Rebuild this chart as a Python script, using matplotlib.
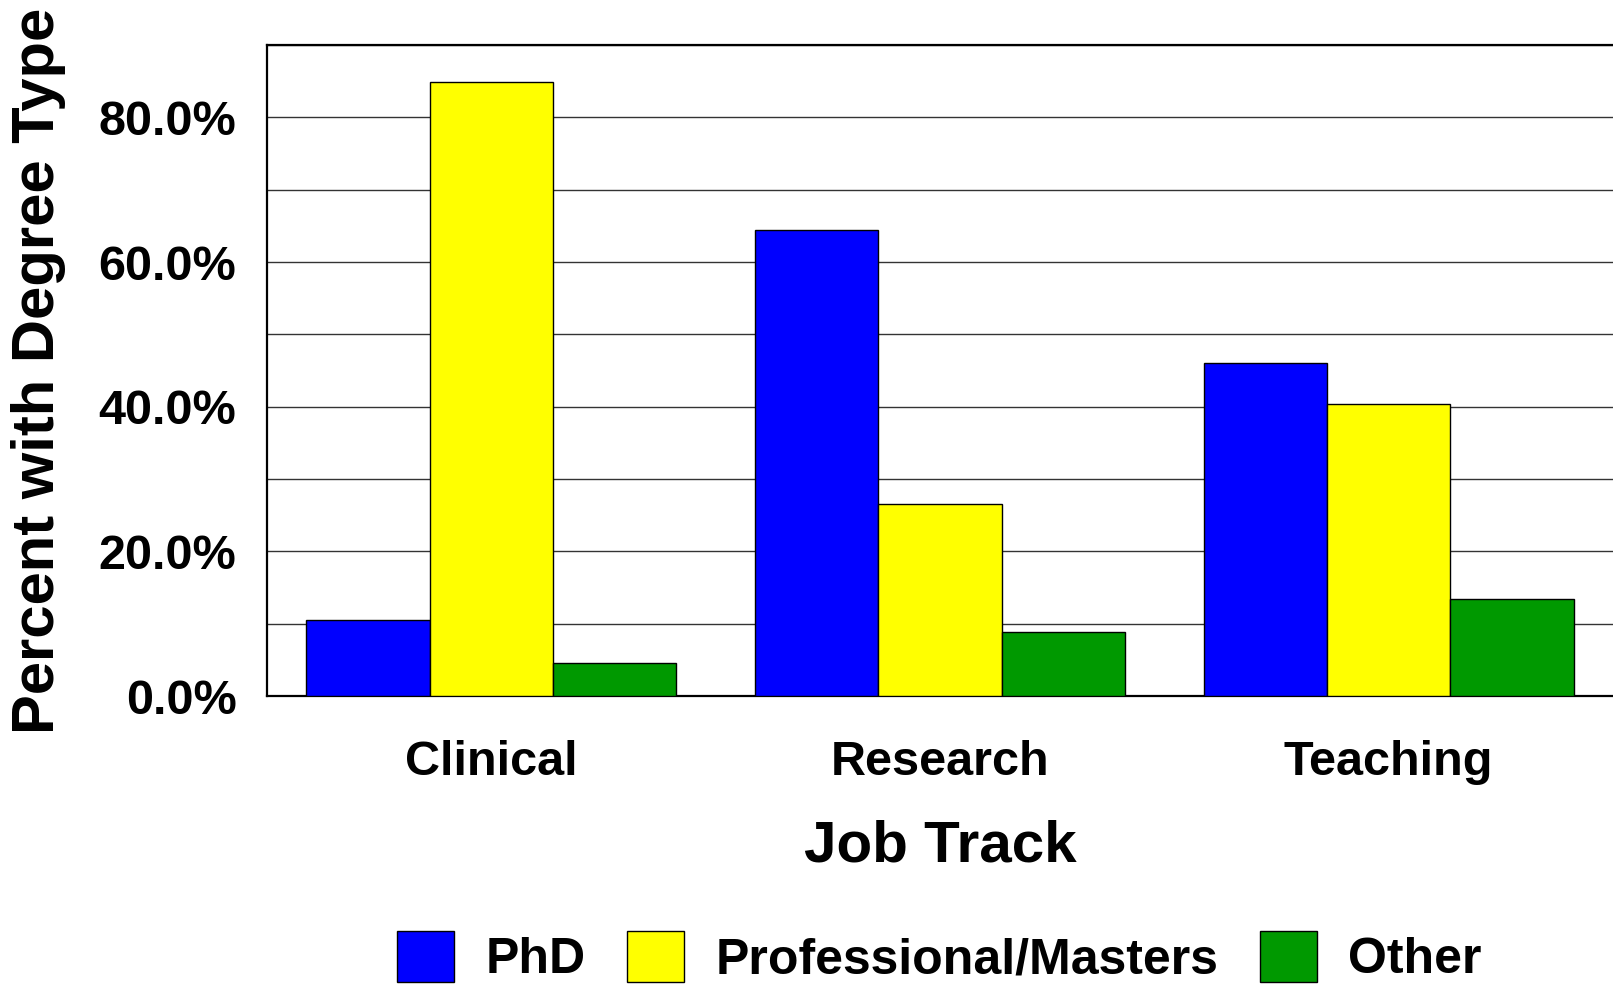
import numpy as np
import matplotlib
matplotlib.use('Agg')
import matplotlib.pyplot as plt
from matplotlib.ticker import FuncFormatter, MultipleLocator

tracks = ['Clinical', 'Research', 'Teaching']
degrees = ['PhD', 'Professional/Masters', 'Other']
phd = [10.5, 64.4, 46.1]
prof = [84.9, 26.5, 40.3]
other = [4.6, 8.9, 13.4]
colors = ['#0000ff', '#ffff00', '#009900']


def main():
    plt.rcParams['font.family'] = ['Liberation Sans', 'DejaVu Sans']
    plt.rcParams['font.weight'] = 'bold'

    fig = plt.figure(figsize=(16.13, 9.84), dpi=100)
    ax = fig.add_axes([267 / 1613, 1 - 696 / 984, 1 - 267 / 1613, (696 - 45) / 984])

    x = np.arange(len(tracks))
    w = 0.275
    for i, (vals, lab) in enumerate(zip([phd, prof, other], degrees)):
        ax.bar(x + (i - 1) * w, vals, w, color=colors[i], edgecolor='black',
               linewidth=1, label=lab, zorder=3)

    ax.set_xlim(-0.5, 2.5)
    ax.set_ylim(0, 90)
    ax.yaxis.set_major_locator(MultipleLocator(20))
    ax.yaxis.set_minor_locator(MultipleLocator(10))
    ax.yaxis.set_major_formatter(FuncFormatter(lambda v, p: '{:.1f}%'.format(v)))
    ax.grid(axis='y', which='both', color='#333333', linewidth=1, zorder=0)
    ax.set_xticks(x)
    ax.set_xticklabels(tracks)
    ax.tick_params(axis='both', which='both', length=0)
    ax.tick_params(axis='y', labelsize=35, pad=22)
    ax.tick_params(axis='x', labelsize=35, pad=32)

    ax.spines['right'].set_visible(False)
    for s in ['left', 'top', 'bottom']:
        ax.spines[s].set_linewidth(1.6)

    ax.set_xlabel('Job Track', fontsize=42, fontweight='bold', va='center')
    ax.xaxis.set_label_coords(0.5, (696 - 847) / 651)
    ax.set_ylabel('Percent with Degree Type', fontsize=43, fontweight='bold', va='center')
    ax.yaxis.set_label_coords((39 - 267) / 1346, 0.5)

    fig.legend(loc='center', bbox_to_anchor=(939.5 / 1613, 1 - 957 / 984), ncol=3,
               frameon=False, fontsize=36, handlelength=1.14, handleheight=1.2,
               handletextpad=0.62, columnspacing=0.84, borderpad=0, borderaxespad=0)

    fig.savefig('out.png', dpi=100)


if __name__ == '__main__':
    main()
